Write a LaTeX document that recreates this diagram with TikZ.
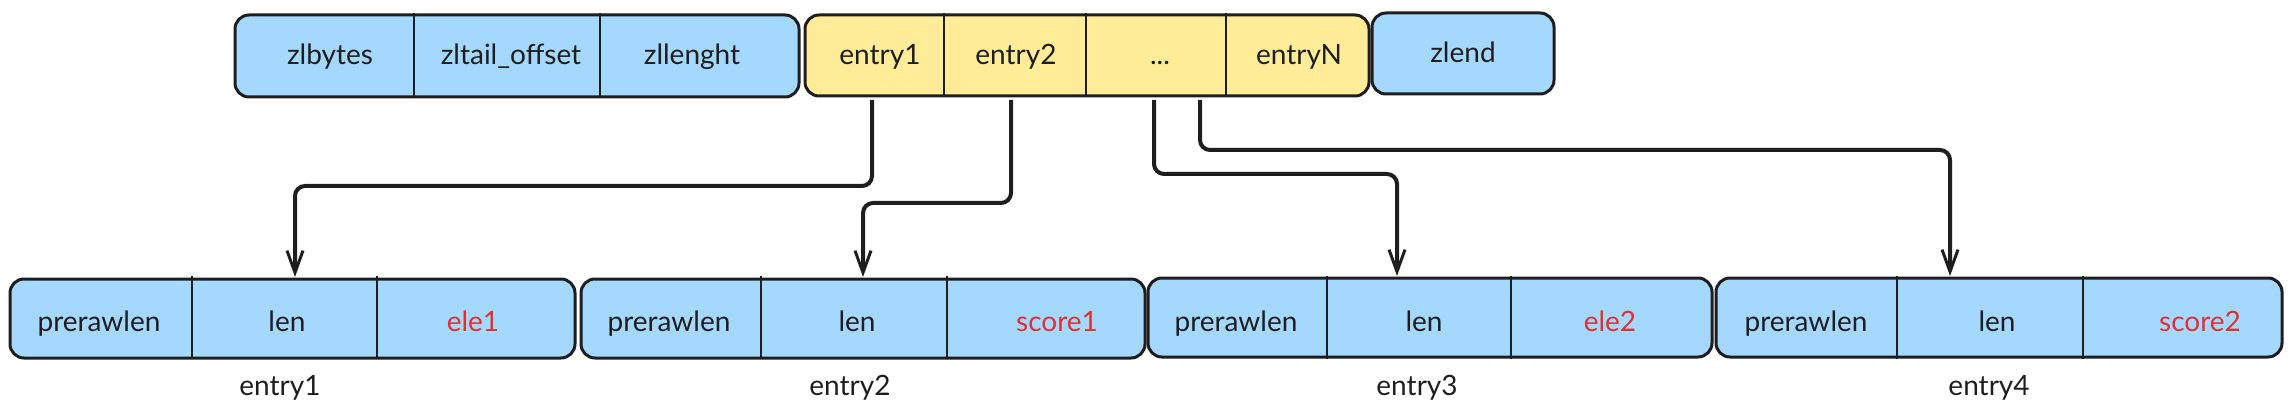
\documentclass[tikz,border=0pt]{standalone}
\usepackage{fontspec}
\setmainfont{Lato}
\usetikzlibrary{arrows.meta}
\definecolor{xblue}{HTML}{A5D8FF}
\definecolor{xyellow}{HTML}{FFEC99}
\definecolor{xink}{HTML}{1E1E1E}
\definecolor{xred}{HTML}{E03131}
\begin{document}
\begin{tikzpicture}[x=1pt,y=-1pt,
  bar/.style={draw=xink, line width=3pt, rounded corners=14pt, inner sep=0pt},
  txt/.style={font=\fontsize{28}{33}\selectfont, text=xink, inner sep=0pt, anchor=base},
  redtxt/.style={txt, text=xred},
  divider/.style={draw=xink, line width=2.8pt},
  link/.style={draw=xink, line width=4pt, rounded corners=10pt,
    -{Straight Barb[length=22pt,width=16pt,line width=3pt]}}
]
\useasboundingbox (0,0) rectangle (2294,414);
% top row
\node[bar, fill=xblue, minimum width=564pt, minimum height=82pt] (g1) at (517,56) {};
\node[bar, fill=xyellow, minimum width=564pt, minimum height=81pt] (g2) at (1087,55.5) {};
\node[bar, fill=xblue, minimum width=182pt, minimum height=81pt] (zl) at (1463,53.5) {};
\foreach \x in {414,600} \draw[divider] (\x,13) -- (\x,97);
\foreach \x in {944,1086,1226} \draw[divider] (\x,13) -- (\x,97);
\node[txt] (t1) at (330,65) {zlbytes};
\node[txt] (t2) at (511,65) {zltail\_offset};
\node[txt] (t3) at (692,65) {zllenght};
\node[txt] (e1) at (880,65) {entry1};
\node[txt] (e2) at (1016,65) {entry2};
\node[txt] (e3) at (1160,65) {...};
\node[txt] (eN) at (1299,65) {entryN};
\node[txt] (zt) at (1463,63) {zlend};
% bottom row
\node[bar, fill=xblue, minimum width=565pt, minimum height=79pt] (b1) at (292.5,318.5) {};
\node[bar, fill=xblue, minimum width=564pt, minimum height=79pt] (b2) at (863,318.5) {};
\node[bar, fill=xblue, minimum width=564pt, minimum height=79pt] (b3) at (1430,317.5) {};
\node[bar, fill=xblue, minimum width=566pt, minimum height=79pt] (b4) at (1999,317.5) {};
\foreach \x in {192,377,761,947,1327,1511,1897,2083} \draw[divider] (\x,276) -- (\x,359);
\foreach \n/\a/\b/\c/\w/\cw/\lx in {1/99/287/473/ele1/redtxt/280, 2/669/857/1057/score1/redtxt/850, 3/1236/1424/1610/ele2/redtxt/1417, 4/1806/1997/2200/score2/redtxt/1989}{
  \node[txt] (p\n) at (\a,331) {prerawlen};
  \node[txt] (l\n) at (\b,331) {len};
  \node[\cw] (v\n) at (\c,331) {\w};
  \node[txt] (lab\n) at (\lx,395) {entry\n};
}
% connectors
\coordinate (s1) at (872,100); \coordinate (m1) at (295,186); \coordinate (d1) at (295,277);
\coordinate (s2) at (1011,100); \coordinate (m2) at (863,203); \coordinate (d2) at (863,277);
\coordinate (s3) at (1154,100); \coordinate (m3) at (1397,174); \coordinate (d3) at (1397,276);
\coordinate (s4) at (1200,100); \coordinate (m4) at (1950,150); \coordinate (d4) at (1950,276);
\draw[link] (s1) |- (m1) -- (d1);
\draw[link] (s2) |- (m2) -- (d2);
\draw[link] (s3) |- (m3) -- (d3);
\draw[link] (s4) |- (m4) -- (d4);
\end{tikzpicture}
\end{document}
